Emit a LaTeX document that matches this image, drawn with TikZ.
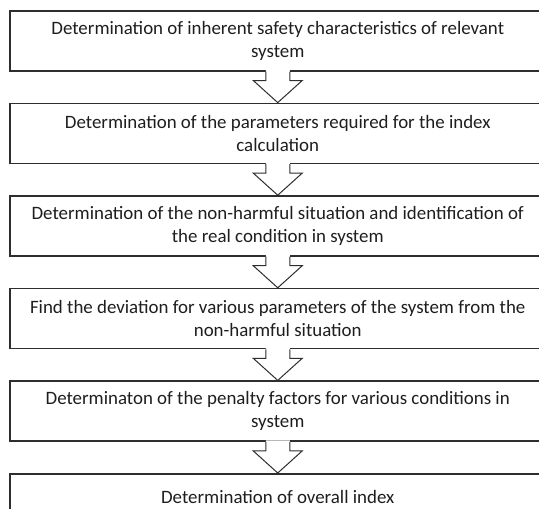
\documentclass[tikz,border=0pt]{standalone}
\usepackage{fontspec}
\setmainfont{Carlito}
\usetikzlibrary{calc}
\definecolor{linegray}{HTML}{2E2E2E}
\definecolor{textgray}{HTML}{1E1E1E}
\begin{document}
\begin{tikzpicture}[x=1pt,y=-1pt,
  stepbox/.style={draw=linegray, line width=1.5pt, fill=white, minimum width=536pt,
    minimum height=60pt, anchor=north west, align=center, inner sep=0pt,
    text=textgray, font=\fontsize{18.9}{22.5}\selectfont},
  arrowline/.style={draw=linegray, line width=1pt, line join=miter}]
\useasboundingbox (0,0) rectangle (539,509);
\clip (0,0) rectangle (539,509);
\fill[white] (0,0) rectangle (539,509);
\node[stepbox] (b1) at (9,10) {Determination of inherent safety characteristics of relevant\\system};
\node[stepbox] (b2) at (9,102.6) {Determination of the parameters required for the index\\calculation};
\node[stepbox] (b3) at (9,195.2) {Determination of the non-harmful situation and identification of\\the real condition in system};
\node[stepbox] (b4) at (9,287.8) {Find the deviation for various parameters of the system from the\\non-harmful situation};
\node[stepbox] (b5) at (9,380.4) {Determinaton of the penalty factors for various conditions in\\system};
\node[stepbox, minimum height=46pt] (b6) at (9,473) {Determination of overall index};
\foreach \a/\b in {b1/b2,b2/b3,b3/b4,b4/b5,b5/b6}{
  \fill[white] ($(\a.south)+(-12,-1.5)$) -- ($(\a.south)+(-12,9)$) -- ($(\a.south)+(-24.5,9)$)
     -- ($(\b.north)+(0,-1)$) -- ($(\a.south)+(24.5,9)$) -- ($(\a.south)+(12,9)$)
     -- ($(\a.south)+(12,-1.5)$) -- cycle;
  \draw[arrowline] ($(\a.south)+(-12,0)$) -- ($(\a.south)+(-12,9)$) -- ($(\a.south)+(-24.5,9)$)
     -- (\b.north) -- ($(\a.south)+(24.5,9)$) -- ($(\a.south)+(12,9)$) -- ($(\a.south)+(12,0)$);
}
\end{tikzpicture}
\end{document}
